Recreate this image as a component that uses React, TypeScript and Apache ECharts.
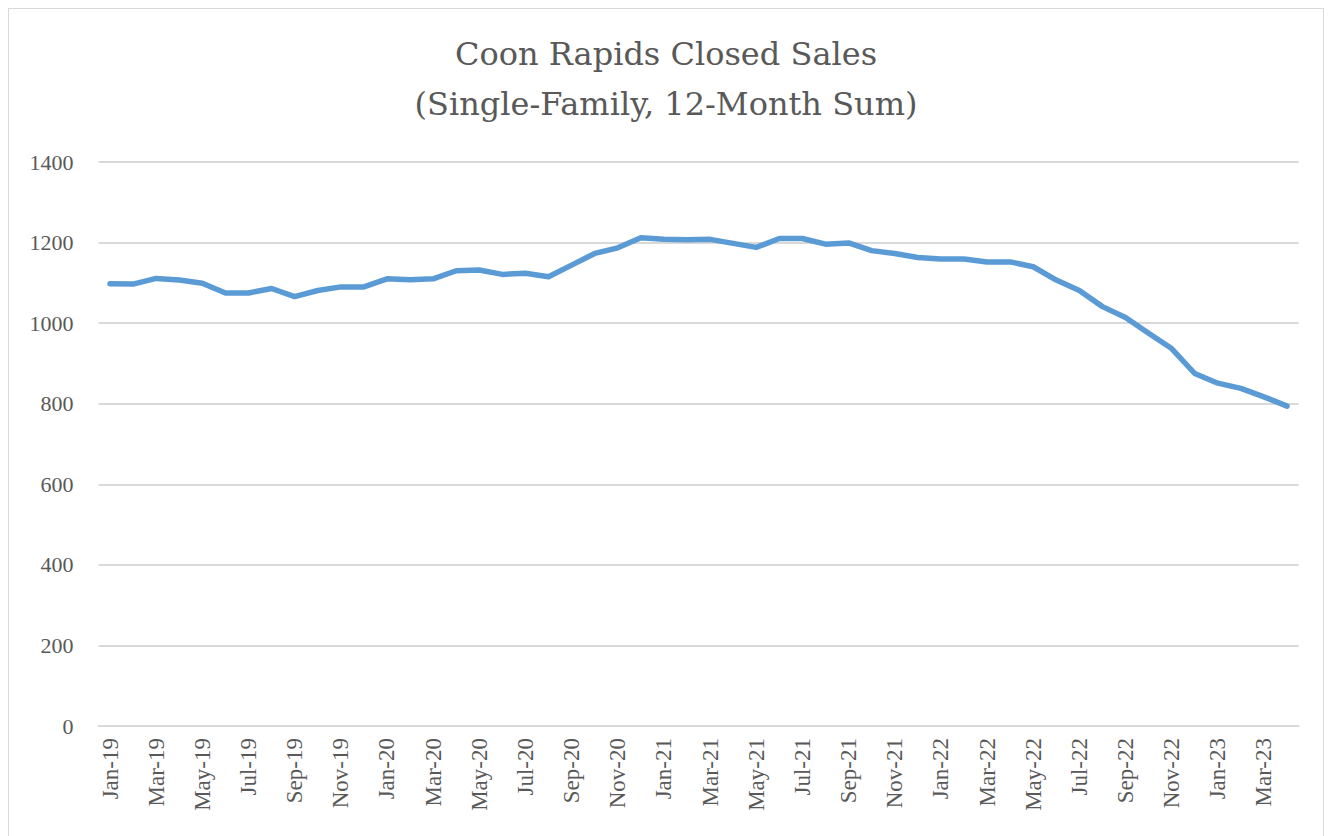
import React, { useEffect, useRef } from "react";
import * as echarts from "echarts";

const months = ["Jan", "Feb", "Mar", "Apr", "May", "Jun", "Jul", "Aug", "Sep", "Oct", "Nov", "Dec"];
const years = ["19", "20", "21", "22", "23"];
const categories: string[] = [];
for (const y of years) for (const m of months) categories.push(`${m}-${y}`);
categories.splice(52);

const closedSales = [
  1098, 1097, 1111, 1107, 1099, 1075, 1075, 1086, 1066, 1081, 1090, 1090,
  1110, 1108, 1110, 1130, 1132, 1121, 1124, 1115, 1144, 1173, 1187, 1212,
  1208, 1207, 1208, 1198, 1188, 1210, 1210, 1196, 1199, 1180, 1173, 1163,
  1159, 1159, 1152, 1152, 1140, 1107, 1081, 1041, 1014, 975, 937, 875,
  851, 838, 817, 794,
];

const titleLines = ["Coon Rapids Closed Sales", "(Single-Family, 12-Month Sum)"];
const yTicks = { min: 0, max: 1400, interval: 200 };

export default function App() {
  const ref = useRef<HTMLDivElement>(null);
  useEffect(() => {
    const chart = echarts.init(ref.current!, undefined, { renderer: "svg" });
    const font = "'Liberation Serif', 'DejaVu Serif', serif";
    chart.setOption({
      animation: false,
      backgroundColor: "#ffffff",
      title: {
        text: titleLines.join("\n"),
        left: "center",
        top: 15,
        textStyle: {
          fontFamily: "'DejaVu Serif', serif",
          fontSize: 32,
          fontWeight: "normal",
          color: "#595959",
          lineHeight: 50,
        },
      },
      grid: { left: 89.5, right: 24.4, top: 153, height: 564 },
      xAxis: {
        type: "category",
        data: categories,
        boundaryGap: true,
        axisLine: { show: true, lineStyle: { color: "#d9d9d9", width: 2 } },
        axisTick: { show: false },
        axisLabel: {
          interval: 1,
          rotate: 90,
          fontFamily: font,
          fontSize: 23,
          color: "#595959",
          margin: 12,
        },
      },
      yAxis: {
        type: "value",
        min: yTicks.min,
        max: yTicks.max,
        interval: yTicks.interval,
        axisLine: { show: false },
        axisTick: { show: false },
        splitLine: { lineStyle: { color: "#d9d9d9", width: 2 } },
        axisLabel: {
          fontFamily: font,
          fontSize: 22,
          color: "#595959",
          margin: 25,
          formatter: (v: number) => String(v),
        },
      },
      series: [
        {
          type: "line",
          data: closedSales,
          showSymbol: false,
          lineStyle: { color: "#5b9bd5", width: 5.5, cap: "round", join: "round" },
          itemStyle: { color: "#5b9bd5" },
        },
      ],
    });
    return () => chart.dispose();
  }, []);
  return (
    <div
      ref={ref}
      style={{ width: 1314, height: 840, border: "1px solid #d9d9d9", background: "#fff" }}
    />
  );
}
